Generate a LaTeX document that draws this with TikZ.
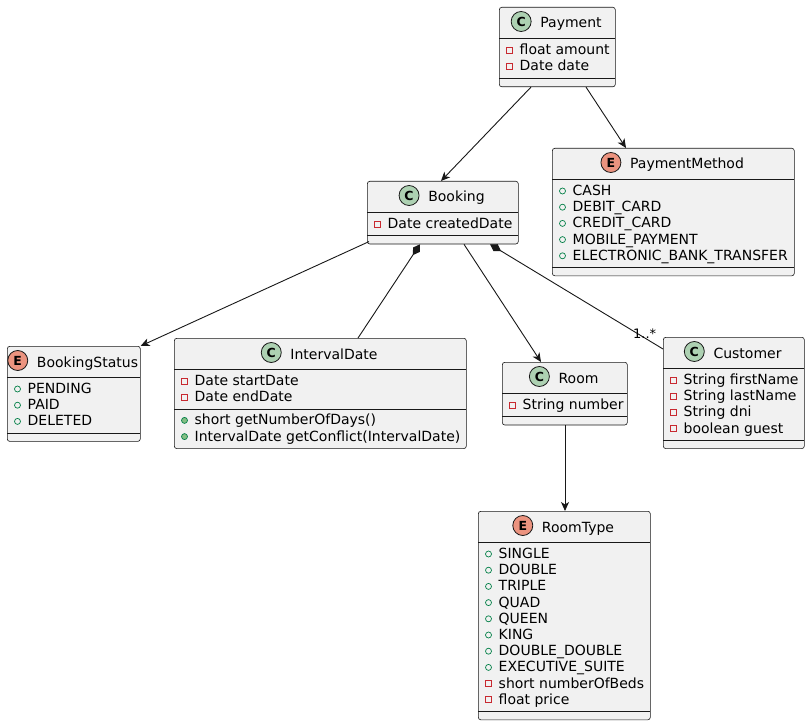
\documentclass[tikz,border=0pt]{standalone}
\usepackage{fontspec}
\setmainfont{DejaVu Sans}
\usetikzlibrary{arrows.meta,calc}
\definecolor{boxfill}{HTML}{F1F1F1}
\definecolor{ink}{HTML}{181818}
\definecolor{cgreen}{HTML}{ADD1B2}
\definecolor{esalmon}{HTML}{EB937F}
\definecolor{privred}{HTML}{C82930}
\definecolor{pubgreen}{HTML}{038048}
\definecolor{methfill}{HTML}{84BE84}

\tikzset{
 classbox/.style={draw=ink, fill=boxfill, line width=0.6pt, rounded corners=2.5pt, anchor=north west, inner sep=0pt, rectangle},
 sepline/.style={draw=ink, line width=0.6pt},
 clstitle/.style={anchor=base, inner sep=0pt, font=\fontsize{14}{16}\selectfont},
 member/.style={anchor=base west, inner sep=0pt, font=\fontsize{14}{16}\selectfont},
 Cicon/.style={circle, draw=ink, line width=0.8pt, fill=cgreen, minimum size=20pt, inner sep=0pt, font=\fontsize{12.5}{12.5}\selectfont\bfseries},
 Eicon/.style={circle, draw=ink, line width=0.8pt, fill=esalmon, minimum size=20pt, inner sep=0pt, font=\fontsize{12.5}{12.5}\selectfont\bfseries},
 privicon/.style={draw=privred, line width=0.7pt},
 fieldicon/.style={draw=pubgreen, line width=0.7pt},
 methicon/.style={draw=pubgreen, fill=methfill, line width=0.7pt},
 link/.style={draw=ink, line width=0.9pt},
 arr/.style={-{Stealth[length=9pt,width=8pt,inset=2.5pt]}},
 comp/.style={{Diamond[length=13pt,width=8pt]}-},
 multlabel/.style={anchor=base west, inner sep=0pt, font=\fontsize{13}{15}\selectfont},
}

% name, left, top, width, height, sep2, kind, title
\newcommand\umlbox[8]{%
  \node[classbox, minimum width=#4pt, minimum height=#5pt] (#1) at (#2,#3) {};
  \draw[sepline] (#2,{#3+31.5}) -- ({#2+#4},{#3+31.5});
  \draw[sepline] (#2,#6) -- ({#2+#4},#6);
  \node[clstitle] (#1t) at ({#2+#4/2+14},{#3+21}) {#8};
  \node[#7icon] (#1i) at ($(#1t.base west)+(-19,-6.5)$) {#7};
}
% name, left, baseline, text
\newcommand\mpriv[4]{%
  \draw[privicon] ({#2+7.5},{#3-7.5}) rectangle ({#2+13.5},{#3-1.5});
  \node[member] (#1) at ({#2+20.5},#3) {#4};
}
\newcommand\mfield[4]{%
  \draw[fieldicon] ({#2+10.5},{#3-4.5}) circle[radius=3];
  \node[member] (#1) at ({#2+20.5},#3) {#4};
}
\newcommand\mmeth[4]{%
  \draw[methicon] ({#2+10.5},{#3-4.5}) circle[radius=3];
  \node[member] (#1) at ({#2+20.5},#3) {#4};
}

\begin{document}
\begin{tikzpicture}[x=1pt,y=-1pt]
\fill[white] (0,0) rectangle (810,727);
\useasboundingbox (0,0) rectangle (810,727);

% Payment
\umlbox{payment}{499}{7}{116}{79.5}{78.5}{C}{Payment}
\mpriv{pa1}{499}{54.5}{float amount}
\mpriv{pa2}{499}{70.7}{Date date}

% Booking
\umlbox{booking}{367}{181}{151}{62.7}{235.7}{C}{Booking}
\mpriv{bo1}{367}{228.5}{Date createdDate}

% PaymentMethod
\umlbox{paymethod}{552}{148}{242}{127.5}{267.5}{E}{PaymentMethod}
\mfield{pm1}{552}{195.5}{CASH}
\mfield{pm2}{552}{211.7}{DEBIT\_CARD}
\mfield{pm3}{552}{227.9}{CREDIT\_CARD}
\mfield{pm4}{552}{244.1}{MOBILE\_PAYMENT}
\mfield{pm5}{552}{260.3}{ELECTRONIC\_BANK\_TRANSFER}

% BookingStatus
\umlbox{bstatus}{7}{346}{133}{95.1}{433.1}{E}{BookingStatus}
\mfield{bs1}{7}{393.5}{PENDING}
\mfield{bs2}{7}{409.7}{PAID}
\mfield{bs3}{7}{425.9}{DELETED}

% IntervalDate
\umlbox{interval}{174}{338}{292}{110.3}{408.9}{C}{IntervalDate}
\mpriv{id1}{174}{385.5}{Date startDate}
\mpriv{id2}{174}{401.7}{Date endDate}
\mmeth{id3}{174}{424.9}{short getNumberOfDays()}
\mmeth{id4}{174}{441.1}{IntervalDate getConflict(IntervalDate)}

% Room
\umlbox{room}{502}{362}{125}{62.7}{416.7}{C}{Room}
\mpriv{ro1}{502}{409.5}{String number}

% Customer
\umlbox{customer}{663}{337}{141}{111.3}{440.3}{C}{Customer}
\mpriv{cu1}{663}{384.5}{String firstName}
\mpriv{cu2}{663}{400.7}{String lastName}
\mpriv{cu3}{663}{416.9}{String dni}
\mpriv{cu4}{663}{433.1}{boolean guest}

% RoomType
\umlbox{roomtype}{478}{511}{172}{208.5}{711.5}{E}{RoomType}
\mfield{rt1}{478}{558.5}{SINGLE}
\mfield{rt2}{478}{574.7}{DOUBLE}
\mfield{rt3}{478}{590.9}{TRIPLE}
\mfield{rt4}{478}{607.1}{QUAD}
\mfield{rt5}{478}{623.3}{QUEEN}
\mfield{rt6}{478}{639.5}{KING}
\mfield{rt7}{478}{655.7}{DOUBLE\_DOUBLE}
\mfield{rt8}{478}{671.9}{EXECUTIVE\_SUITE}
\mpriv{rt9}{478}{688.1}{short numberOfBeds}
\mpriv{rt10}{478}{704.3}{float price}

% Connectors
\draw[link,arr] ($(payment.south west)+(32,0)$) -- ($(booking.north west)+(74,0)$);
\draw[link,arr] ($(payment.south west)+(87,0)$) -- ($(paymethod.north west)+(74,0)$);
\draw[link,arr] ($(booking.south west)+(2,-2.7)$) -- (bstatus.north east);
\draw[link,comp] ($(booking.south west)+(53,0)$) -- ($(interval.north west)+(184,0)$);
\draw[link,arr] ($(booking.south west)+(97,0)$) -- ($(room.north west)+(39,0)$);
\draw[link,comp] ($(booking.south west)+(123,0)$) -- ($(customer.north west)+(0,12)$);
\node[multlabel] (mult) at ($(customer.north west)+(-30,1)$) {1..*};
\draw[link,arr] ($(room.south west)+(63,0)$) -- ($(roomtype.north west)+(87,0)$);

\end{tikzpicture}
\end{document}
